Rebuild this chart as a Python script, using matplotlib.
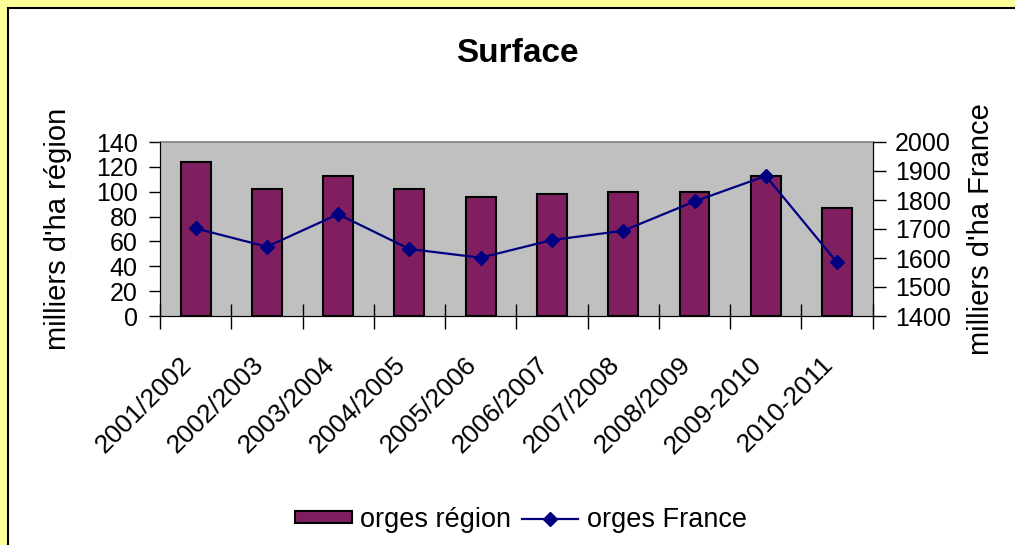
import matplotlib
matplotlib.use("Agg")
import matplotlib.pyplot as plt
import matplotlib.transforms as mtransforms
from matplotlib.patches import Rectangle
from matplotlib.lines import Line2D

categories = ["2001/2002", "2002/2003", "2003/2004", "2004/2005", "2005/2006",
              "2006/2007", "2007/2008", "2008/2009", "2009-2010", "2010-2011"]
orges_region = [124, 102, 113, 102, 96, 98, 100, 100, 113, 87]
orges_france = [1702, 1639, 1751, 1631, 1601, 1662, 1694, 1795, 1883, 1585]
left_ticks = [0, 20, 40, 60, 80, 100, 120, 140]
right_ticks = [1400, 1500, 1600, 1700, 1800, 1900, 2000]

plt.rcParams['font.family'] = ['Liberation Sans', 'DejaVu Sans']
FS_YT = 18
FS_XT = 19
FS_LAB = 21
FS_LEG = 19.5

fig = plt.figure(figsize=(10.15, 5.45), dpi=100)
fig.patch.set_facecolor('#FFFF99')
# white chart area with black frame on top/left
fig.patches.append(Rectangle((8/1015, -0.1), 1.2, (545-8)/545 + 0.1, transform=fig.transFigure,
                             facecolor='white', edgecolor='black', linewidth=1.5, zorder=-5))

ax = fig.add_axes([160/1015, 1-316/545, (872.7-160)/1015, (316-142)/545])
ax.set_facecolor('#C0C0C0')
x = list(range(len(categories)))
ax.bar(x, orges_region, width=0.42, color='#7F1F5F', edgecolor='black', linewidth=1.5, zorder=2)
ax.set_xlim(-0.5, len(categories) - 0.5)
ax.set_ylim(0, 140)
ax.set_yticks(left_ticks)
ax.set_xticks(x)
ax.set_xticks([i - 0.5 for i in range(len(categories) + 1)], minor=True)
ax.tick_params(axis='x', which='major', length=0, pad=26)
ax.tick_params(axis='x', which='minor', length=18, direction='inout', width=1)
ax.tick_params(axis='y', length=8, width=1, labelsize=FS_YT, pad=8)
ax.set_ylabel("milliers d'ha région", fontsize=FS_LAB, labelpad=17)
for s in ['left', 'bottom', 'right']:
    ax.spines[s].set_color('black')
ax.spines['top'].set_color('#808080')
ax.spines['top'].set_linewidth(1.2)

ax2 = ax.twinx()
ax2.plot(x, orges_france, color='#000080', linewidth=1.6, marker='D', markersize=7,
         markerfacecolor='#000080', markeredgecolor='#000080', zorder=3)
ax2.set_ylim(1400, 2000)
ax2.set_yticks(right_ticks)
ax2.tick_params(axis='y', length=9, width=1, labelsize=FS_YT, pad=7)
ax2.set_ylabel("milliers d'ha France", fontsize=FS_LAB, rotation=90, labelpad=12)
ax2.spines['top'].set_visible(False)

ax.set_xticklabels(categories, rotation=45, ha='right', rotation_mode='anchor', fontsize=FS_XT)
offset = mtransforms.ScaledTranslation(-16/100, 0, fig.dpi_scale_trans)
for lbl in ax.get_xticklabels():
    lbl.set_transform(lbl.get_transform() + offset)

fig.text(517.5/1015, 1-53/545, "Surface", ha='center', va='center', fontsize=24, fontweight='bold')

handles = [Rectangle((0, 0), 1, 1, facecolor='#7F1F5F', edgecolor='black', linewidth=1.5),
           Line2D([], [], color='#000080', linewidth=1.6, marker='D', markersize=7)]
fig.legend(handles, ["orges région", "orges France"], loc='center',
           bbox_to_anchor=(0.513, 1-520/545), ncol=2, frameon=False, fontsize=FS_LEG,
           handlelength=2.1, handleheight=0.3, handletextpad=0.3, columnspacing=0.4)

fig.savefig("out.png", dpi=100, facecolor=fig.get_facecolor())
